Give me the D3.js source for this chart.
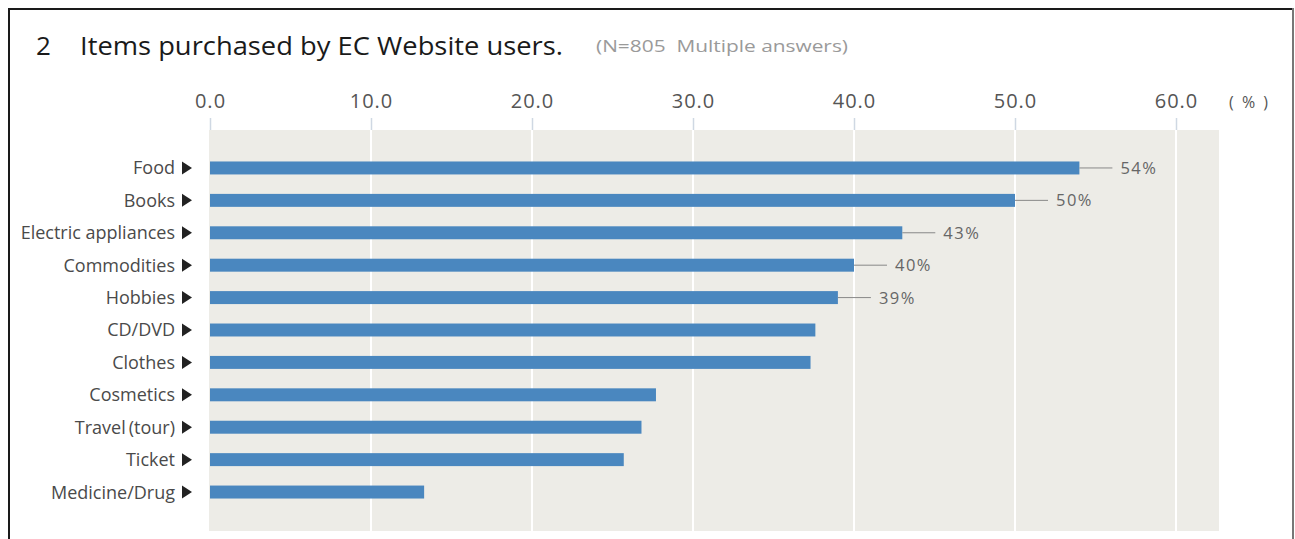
<!DOCTYPE html>
<html>
<head>
<meta charset="utf-8">
<script src="https://cdn.jsdelivr.net/npm/d3@7"></script>
<style>
  html, body { margin: 0; padding: 0; background: #fff; }
  svg { display: block; font-family: "Open Sans", "Noto Sans", sans-serif; }
</style>
</head>
<body>
<svg id="chart" width="1295" height="539"></svg>
<script>
// Items purchased by EC website users (share of respondents, %)
const categories = ["Food", "Books", "Electric appliances", "Commodities", "Hobbies",
  "CD/DVD", "Clothes", "Cosmetics", "Travel\u2009(tour)", "Ticket", "Medicine/Drug"];
const values = [54, 50, 43, 40, 39, 37.6, 37.3, 27.7, 26.8, 25.7, 13.3];
const labelled = [true, true, true, true, true, false, false, false, false, false, false];
const tickValues = [0, 10, 20, 30, 40, 50, 60];
const tickLabels = ["0.0", "10.0", "20.0", "30.0", "40.0", "50.0", "60.0"];
const titleNumber = "2";
const titleText = "Items purchased by EC Website users.";
const noteText = "(N=805  Multiple answers)";
const unitText = "( % )";

const svg = d3.select("#chart");

// frame
svg.append("path")
  .attr("d", "M9,539 V9 H1293")
  .attr("fill", "none").attr("stroke", "#1a1a1a").attr("stroke-width", 2);
svg.append("line").attr("x1", 1293).attr("x2", 1293).attr("y1", 8).attr("y2", 539)
  .attr("stroke", "#777").attr("stroke-width", 2);

// title
svg.append("text").attr("x", 36).attr("y", 55)
  .attr("font-size", 26).attr("fill", "#1a1a1a").text(titleNumber);
svg.append("text").attr("x", 80).attr("y", 55)
  .attr("font-size", 26).attr("fill", "#1a1a1a")
  .attr("textLength", 483).attr("lengthAdjust", "spacingAndGlyphs").text(titleText);
svg.append("text").attr("x", 596).attr("y", 52)
  .attr("font-size", 17).attr("fill", "#9a9a9a").style("white-space", "pre")
  .attr("textLength", 252).attr("lengthAdjust", "spacingAndGlyphs").text(noteText);

const plot = { left: 210, right: 1219, top: 130, bottom: 531 };
const x = d3.scaleLinear().domain([0, 60]).range([210, 1176]);
const y = d3.scaleBand().domain(categories).range([155, 505]).paddingInner(0.6).paddingOuter(0.2);

// plot background
svg.append("rect")
  .attr("x", plot.left - 1).attr("y", plot.top)
  .attr("width", plot.right - plot.left + 1).attr("height", plot.bottom - plot.top)
  .attr("fill", "#edece7");

// top axis with short tick marks
const axis = d3.axisTop(x).tickValues(tickValues)
  .tickFormat((d, i) => tickLabels[i]).tickSize(12).tickPadding(10);
const ag = svg.append("g").attr("transform", `translate(0,${plot.top})`).call(axis);
ag.select(".domain").remove();
ag.selectAll(".tick line").attr("stroke", "#cfd8e3").attr("stroke-width", 1.5);
ag.selectAll(".tick text").attr("font-size", 20).attr("fill", "#555")
  .attr("letter-spacing", 1)
  .attr("font-family", "\"Open Sans\", sans-serif");

// white gridlines inside plot
svg.append("g").selectAll("line").data(tickValues.slice(1)).join("line")
  .attr("x1", d => x(d)).attr("x2", d => x(d))
  .attr("y1", plot.top).attr("y2", plot.bottom)
  .attr("stroke", "#ffffff").attr("stroke-width", 2);

svg.append("text").attr("x", 1229).attr("y", 108)
  .attr("font-size", 16).attr("fill", "#555").attr("letter-spacing", 2)
  .style("white-space", "pre").text(unitText);

// bars
svg.append("g").selectAll("rect").data(values).join("rect")
  .attr("x", x(0)).attr("y", (d, i) => y(categories[i]))
  .attr("width", d => x(d) - x(0)).attr("height", y.bandwidth())
  .attr("fill", "#4a87bf");

// category labels with pointer triangles
const lg = svg.append("g");
categories.forEach((c, i) => {
  const cy = y(c) + y.bandwidth() / 2;
  lg.append("text").attr("x", 175).attr("y", cy).attr("dy", "0.36em")
    .attr("text-anchor", "end").attr("font-size", 18).attr("fill", "#4a4a4a").text(c);
  lg.append("path")
    .attr("d", `M182,${cy - 6.5} L192,${cy} L182,${cy + 6.5} Z`).attr("fill", "#222");
});

// value leaders and labels
const vg = svg.append("g");
values.forEach((v, i) => {
  if (!labelled[i]) return;
  const cy = y(categories[i]) + y.bandwidth() / 2;
  vg.append("line").attr("x1", x(v)).attr("x2", x(v) + 33)
    .attr("y1", cy).attr("y2", cy).attr("stroke", "#888").attr("stroke-width", 1);
  vg.append("text").attr("x", x(v) + 41).attr("y", cy).attr("dy", "0.36em")
    .attr("font-size", 16.5).attr("fill", "#666").attr("letter-spacing", 1.5)
    .text(d3.format(".0f")(v) + "%");
});
</script>
</body>
</html>
